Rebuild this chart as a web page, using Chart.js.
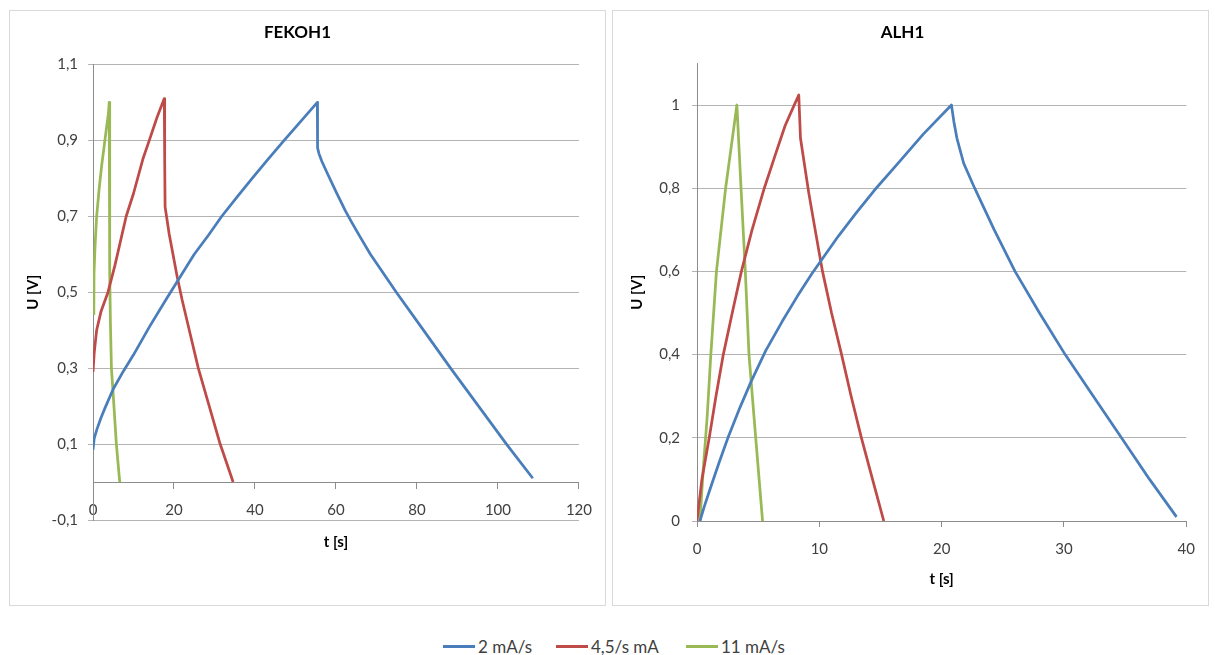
<!DOCTYPE html>
<html>
<head>
<meta charset="utf-8">
<script src="https://cdn.jsdelivr.net/npm/chart.js@4.4.0/dist/chart.umd.min.js"></script>
<style>
  body { margin: 0; background: #fff; width: 1215px; height: 655px; position: relative; overflow: hidden; font-family: Lato, sans-serif; }
  .panel { position: absolute; top: 10px; width: 595px; height: 594px; border: 1px solid #d9d9d9; }
  .legend { position: absolute; top: 636px; font-size: 17px; color: #404040; display: flex; align-items: center; white-space: nowrap; }
  .legend span.key { display: inline-block; width: 32px; height: 3px; margin-right: 3px; }
</style>
</head>
<body>
<div class="panel" style="left:9px"><canvas id="fekoh" width="595" height="594"></canvas></div>
<div class="panel" style="left:612px"><canvas id="alh" width="595" height="594"></canvas></div>
<div class="legend" style="left:443px"><span class="key" style="background:#4a7ebb"></span>2 mA/s</div>
<div class="legend" style="left:556px"><span class="key" style="background:#be4b48"></span>4,5/s mA</div>
<div class="legend" style="left:686px"><span class="key" style="background:#98b954"></span>11 mA/s</div>
<script>
'use strict'

const seriesNames = ['2 mA/s', '4,5/s mA', '11 mA/s']
const seriesColors = ['#4a7ebb', '#be4b48', '#98b954']

// FEKOH1
const fekohT1 = [0, 0.3, 1, 2, 3, 5, 7.5, 10, 14, 18, 21.5, 25, 28.5, 31.8, 35.5, 39.3, 43.2, 47.2, 51.3, 55.4,
  55.45, 55.8, 56.5, 58, 60, 62.3, 64, 66, 68.5, 74.9, 81.6, 88.3, 95.2, 102.1, 108.6]
const fekohU1 = [0.085, 0.115, 0.14, 0.17, 0.196, 0.245, 0.292, 0.335, 0.41, 0.48, 0.54, 0.6, 0.65, 0.7, 0.75, 0.8, 0.85, 0.9, 0.95, 1.0,
  0.88, 0.865, 0.845, 0.81, 0.765, 0.715, 0.682, 0.645, 0.6, 0.5, 0.4, 0.3, 0.2, 0.1, 0.01]
const fekohT2 = [0, 0.3, 0.9, 2, 3.7, 5.4, 8.2, 10, 12.3, 13.9, 15.8, 17.6, 17.7, 17.8, 18.8, 20.8, 22, 24, 26, 28.7, 31.4, 34.6]
const fekohU2 = [0.29, 0.34, 0.4, 0.45, 0.5, 0.57, 0.7, 0.76, 0.85, 0.9, 0.96, 1.01, 0.85, 0.725, 0.654, 0.54, 0.48, 0.39, 0.3, 0.2, 0.1, 0.0]
const fekohT3 = [0.2, 0.25, 0.5, 0.9, 1.5, 2.1, 2.7, 3.3, 3.8, 4.0, 4.1, 4.15, 4.3, 4.55, 4.96, 5.77, 6.6]
const fekohU3 = [0.44, 0.55, 0.62, 0.7, 0.77, 0.83, 0.88, 0.93, 0.97, 1.0, 0.95, 0.55, 0.42, 0.3, 0.235, 0.1, 0.0]

// ALH1
const alhT1 = [0.24, 0.6, 1.05, 1.8, 2.53, 3.5, 4.42, 5.63, 6.97, 8.2, 9.4, 11.56, 13, 14.5, 16.5, 18.5, 20.8,
  21.0, 21.25, 21.8, 22.7, 24.3, 26, 28, 30.1, 32.4, 34.7, 37, 39.2]
const alhU1 = [0, 0.035, 0.075, 0.14, 0.2, 0.272, 0.335, 0.41, 0.48, 0.54, 0.595, 0.685, 0.74, 0.795, 0.862, 0.93, 1.0,
  0.96, 0.92, 0.86, 0.8, 0.7, 0.6, 0.5, 0.4, 0.3, 0.2, 0.1, 0.01]
const alhT2 = [0, 0.4, 1.0, 1.55, 2.15, 2.88, 3.63, 4.5, 5.5, 6.4, 7.2, 7.8, 8.32, 8.46, 9.13, 9.6, 10.26, 11.0, 11.82, 12.6, 13.44, 14.35, 15.27]
const alhU2 = [0, 0.1, 0.2, 0.3, 0.4, 0.5, 0.6, 0.7, 0.8, 0.88, 0.95, 0.99, 1.024, 0.92, 0.79, 0.71, 0.6, 0.5, 0.4, 0.3, 0.2, 0.1, 0.0]
const alhT3 = [0.24, 0.5, 0.83, 1.13, 1.59, 2.34, 2.8, 3.26, 3.6, 3.95, 4.25, 4.8, 5.36]
const alhU3 = [0, 0.12, 0.25, 0.4, 0.6, 0.8, 0.9, 1.0, 0.8, 0.6, 0.4, 0.2, 0.0]

Chart.defaults.font.family = 'Lato, sans-serif'
Chart.defaults.color = '#404040'

function zip(ts, us) {
  return ts.map((t, i) => ({ x: t, y: us[i] }))
}

function makeDatasets(list) {
  return list.map((pair, i) => ({
    label: seriesNames[i],
    data: zip(pair[0], pair[1]),
    borderColor: seriesColors[i],
    backgroundColor: seriesColors[i],
    borderWidth: 2.75,
    borderJoinStyle: 'round',
    pointRadius: 0,
    tension: 0
  }))
}

function commaLabel(v) {
  return String(Number(v.toFixed(1))).replace('.', ',')
}

function makeChart(id, title, datasets, x, y, opts) {
  return new Chart(document.getElementById(id), {
    type: 'line',
    data: { datasets: datasets },
    options: {
      responsive: false,
      animation: false,
      layout: { padding: opts.padding },
      plugins: {
        legend: { display: false },
        tooltip: { enabled: false },
        title: {
          display: true,
          text: title,
          color: '#000',
          font: { size: 17, weight: 'bold' },
          padding: { top: 11, bottom: opts.titleBottom }
        }
      },
      scales: {
        x: {
          type: 'linear',
          position: opts.xPosition,
          min: x.min,
          max: x.max,
          ticks: { stepSize: x.step, padding: 13, font: { size: 15 }, maxRotation: 0 },
          grid: { drawOnChartArea: false, color: '#8c8c8c', tickLength: 6 },
          border: { color: '#8c8c8c' },
          title: { display: true, text: 't [s]', color: '#000', font: { size: 15, weight: 'bold' }, padding: { top: 1, bottom: opts.xTitleBottom } },
          afterFit: opts.xFit
        },
        y: {
          min: y.min,
          max: y.max,
          ticks: { stepSize: 0.2, includeBounds: false, padding: opts.yPad, font: { size: 15 }, callback: commaLabel },
          grid: { color: '#b4b4b4', tickLength: 5 },
          border: { color: '#8c8c8c' },
          title: { display: true, text: 'U [V]', color: '#000', font: { size: 15, weight: 'bold' }, padding: { top: opts.yTitlePad } },
          afterFit: (s) => { s.width = opts.yWidth }
        }
      }
    }
  })
}

makeChart('fekoh', 'FEKOH1',
  makeDatasets([[fekohT1, fekohU1], [fekohT2, fekohU2], [fekohT3, fekohU3]]),
  { min: 0, max: 120, step: 20 },
  { min: -0.1, max: 1.1 },
  { padding: { left: 0, right: 20, top: 0, bottom: 85 }, titleBottom: 22, xPosition: { y: 0 }, xTitleBottom: 0,
    xFit: null, yPad: 10, yTitlePad: 14, yWidth: 83 })

makeChart('alh', 'ALH1',
  makeDatasets([[alhT1, alhU1], [alhT2, alhU2], [alhT3, alhU3]]),
  { min: 0, max: 40, step: 10 },
  { min: 0, max: 1.1 },
  { padding: { left: 0, right: 16, top: 0, bottom: 0 }, titleBottom: 21, xPosition: 'bottom', xTitleBottom: 17,
    xFit: (s) => { s.height = 84 }, yPad: 12, yTitlePad: 15, yWidth: 84 })
</script>
</body>
</html>
